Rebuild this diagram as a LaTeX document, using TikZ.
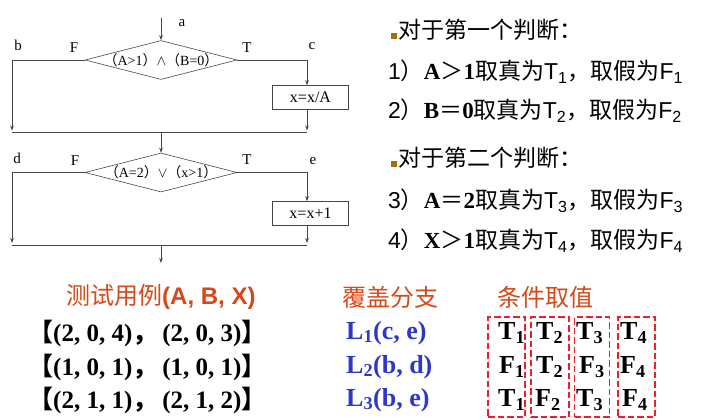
\documentclass[tikz,border=0pt]{standalone}
\usepackage{fontspec}
\setmainfont{Liberation Serif}
\newfontfamily\cjk{Noto Sans CJK SC}
\newfontfamily\lsans{Liberation Sans}
\usetikzlibrary{shapes.geometric,arrows.meta}
\definecolor{hdrc}{RGB}{214,72,24}
\definecolor{bluec}{RGB}{45,55,200}
\definecolor{dredc}{RGB}{240,30,40}
\definecolor{bulc}{RGB}{160,110,20}
\definecolor{linec}{RGB}{70,70,70}
\newcommand\bulsq{\textcolor{bulc}{\rule{5.5pt}{5.5pt}}\hspace{1.5pt}}
\newcommand\lp{{\cjk （}}
\newcommand\rp{{\cjk ）}}
\begin{document}
\begin{tikzpicture}[x=1pt,y=-1pt,
  flow/.style={draw=linec, line width=0.6pt},
  arr/.style={flow, -{Stealth[length=5pt,width=3.6pt]}},
  lbl/.style={inner sep=0pt, font=\fontsize{15}{15}\selectfont},
  diam/.style={flow, diamond, aspect=3.9, inner sep=0pt, minimum width=152pt, minimum height=39pt, font=\fontsize{14}{14}\selectfont},
  procbox/.style={flow, rectangle, inner sep=0pt, minimum width=76pt, minimum height=24pt, font=\fontsize{16}{16}\selectfont},
  rtxt/.style={inner sep=0pt, anchor=west, font=\fontsize{23}{23}\selectfont},
  hdr/.style={inner sep=0pt, anchor=west, text=hdrc, font=\cjk\fontsize{24}{24}\selectfont},
  rowt/.style={inner sep=0pt, anchor=west, font=\bfseries\fontsize{25}{25}\selectfont},
  lrow/.style={inner sep=0pt, anchor=west, text=bluec, font=\bfseries\fontsize{26}{26}\selectfont},
  tf/.style={inner sep=0pt, anchor=west, font=\bfseries\fontsize{26}{26}\selectfont},
  dbox/.style={draw=dredc, line width=1.4pt, dash pattern=on 6.5pt off 3pt, inner sep=0pt, minimum width=37pt, minimum height=100pt}
]
\useasboundingbox (0,0) rectangle (701,420);

% ---------- first decision ----------
\coordinate (top) at (161,18);
\node[diam] (d1) at (161,60) {\makebox[0pt]{\lp A>1\rp$\wedge$\lp B=0\rp}};
\coordinate (lt1) at (12,60);
\coordinate (lb1) at (12,130.5);
\coordinate (rt1) at (307,60);
\node[procbox] (b1) at (310.5,97.5) {x=x/A};
\coordinate (rb1) at (307,130.5);
\coordinate (j1l) at (12,132.5);
\coordinate (j1r) at (307,132.5);
\coordinate (m1) at (161,132.5);

\draw[arr] (top) -- (d1.north);
\draw[arr] (d1.west) -- (lt1) -- (lb1);
\draw[arr] (d1.east) -- (rt1) -- (rt1 |- b1.north);
\draw[arr] (rt1 |- b1.south) -- (rb1);
\draw[flow] (j1l) -- (j1r);

\node[lbl] (la) at (182,23) {a};
\node[lbl] (lb) at (18,45) {b};
\node[lbl] (lf1) at (74,48) {F};
\node[lbl] (lt1t) at (247,48) {T};
\node[lbl] (lc) at (312,46) {c};

% ---------- second decision ----------
\node[diam] (d2) at (161,172.5) {\makebox[0pt]{\lp A=2\rp$\vee$\lp x>1\rp}};
\coordinate (lt2) at (12,172.5);
\coordinate (lb2) at (12,243);
\coordinate (rt2) at (307,172.5);
\node[procbox] (b2) at (310.5,213.5) {x=x+1};
\coordinate (rb2) at (307,243);
\coordinate (j2l) at (12,245);
\coordinate (j2r) at (307,245);
\coordinate (m2) at (161,245);
\coordinate (endp) at (161,263);

\draw[arr] (m1) -- (d2.north);
\draw[arr] (d2.west) -- (lt2) -- (lb2);
\draw[arr] (d2.east) -- (rt2) -- (rt2 |- b2.north);
\draw[arr] (rt2 |- b2.south) -- (rb2);
\draw[flow] (j2l) -- (j2r);
\draw[arr] (m2) -- (endp);

\node[lbl] (ld) at (17,158) {d};
\node[lbl] (lf2) at (75,161) {F};
\node[lbl] (lt2t) at (247,160) {T};
\node[lbl] (le) at (313,161) {e};

% ---------- right text ----------
\node[rtxt] (r1) at (391,30) {\bulsq{\cjk 对于第一个判断：}};
\node[rtxt] (r2) at (388,72) {{\lsans 1}{\cjk ）}\textbf{A}{\cjk ＞}\textbf{1}{\cjk 取真为}{\lsans T\textsubscript{1}}{\cjk ，取假为}{\lsans F\textsubscript{1}}};
\node[rtxt] (r3) at (388,111) {{\lsans 2}{\cjk ）}\textbf{B}{\cjk ＝}\textbf{0}{\cjk 取真为}{\lsans T\textsubscript{2}}{\cjk ，取假为}{\lsans F\textsubscript{2}}};
\node[rtxt] (r4) at (391,158) {\bulsq{\cjk 对于第二个判断：}};
\node[rtxt] (r5) at (388,201) {{\lsans 3}{\cjk ）}\textbf{A}{\cjk ＝}\textbf{2}{\cjk 取真为}{\lsans T\textsubscript{3}}{\cjk ，取假为}{\lsans F\textsubscript{3}}};
\node[rtxt] (r6) at (388,241) {{\lsans 4}{\cjk ）}\textbf{X}{\cjk ＞}\textbf{1}{\cjk 取真为}{\lsans T\textsubscript{4}}{\cjk ，取假为}{\lsans F\textsubscript{4}}};

% ---------- bottom table ----------
\node[hdr] (h1) at (66,297) {测试用例{\lsans\bfseries (A, B, X)}};
\node[hdr] (h2) at (342,297) {覆盖分支};
\node[hdr] (h3) at (497,297) {条件取值};

\node[rowt] (t1) at (28,333) {{\cjk\bfseries 【}(2, 0, 4){\cjk ，}\hspace{5pt}(2, 0, 3){\cjk\bfseries 】}};
\node[rowt] (t2) at (28,367) {{\cjk\bfseries 【}(1, 0, 1){\cjk ，}\hspace{5pt}(1, 0, 1){\cjk\bfseries 】}};
\node[rowt] (t3) at (28,400) {{\cjk\bfseries 【}(2, 1, 1){\cjk ，}\hspace{5pt}(2, 1, 2){\cjk\bfseries 】}};

\node[lrow] (l1) at (346,333) {L\textsubscript{1}(c, e)};
\node[lrow] (l2) at (346,367) {L\textsubscript{2}(b, d)};
\node[lrow] (l3) at (346,400) {L\textsubscript{3}(b, e)};

\node[dbox] (k1) at (506.5,367) {};
\node[dbox, minimum width=38pt] (k2) at (550,367) {};
\node[dbox, minimum width=35pt] (k3) at (592,367) {};
\node[dbox] (k4) at (636.5,367) {};

\node[tf] (c11) at (498,333) {T\textsubscript{1}};
\node[tf] (c12) at (536,333) {T\textsubscript{2}};
\node[tf] (c13) at (576,333) {T\textsubscript{3}};
\node[tf] (c14) at (620,333) {T\textsubscript{4}};
\node[tf] (c21) at (499,367) {F\textsubscript{1}};
\node[tf] (c22) at (536,367) {T\textsubscript{2}};
\node[tf] (c23) at (579,367) {F\textsubscript{3}};
\node[tf] (c24) at (620,367) {F\textsubscript{4}};
\node[tf] (c31) at (498,400) {T\textsubscript{1}};
\node[tf] (c32) at (535,400) {F\textsubscript{2}};
\node[tf] (c33) at (576,400) {T\textsubscript{3}};
\node[tf] (c34) at (622,400) {F\textsubscript{4}};
\end{tikzpicture}
\end{document}
